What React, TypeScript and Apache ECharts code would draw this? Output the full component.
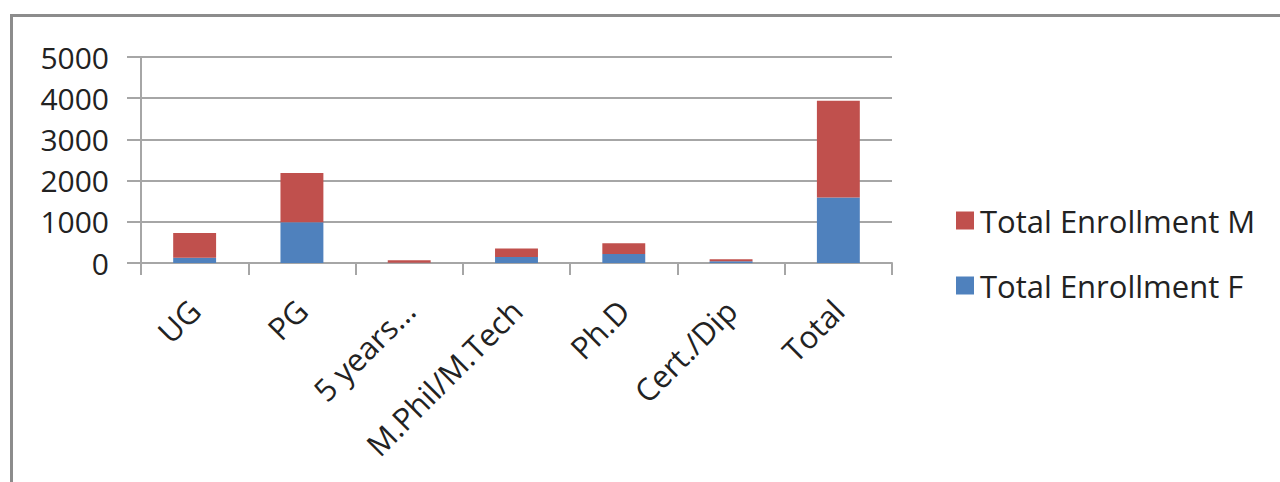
import React, { useEffect, useRef } from "react";
import * as echarts from "echarts";

const categories = ["UG", "PG", "5 years...", "M.Phil/M.Tech", "Ph.D", "Cert./Dip", "Total"];
const femaleValues = [130, 990, 5, 145, 220, 45, 1590];
const maleValues = [600, 1195, 60, 205, 260, 45, 2350];
const seriesNames = ["Total Enrollment M", "Total Enrollment F"];

const FONT = "'Open Sans', Lato, sans-serif";

export default function App() {
  const ref = useRef<HTMLDivElement>(null);
  useEffect(() => {
    if (!ref.current) return;
    const chart = echarts.init(ref.current, null, { renderer: "svg" });
    chart.setOption({
      animation: false,
      backgroundColor: "#ffffff",
      grid: { left: 141, right: 388, top: 57, bottom: 219, containLabel: false },
      legend: {
        orient: "vertical",
        left: 951,
        top: 200,
        itemWidth: 18,
        itemHeight: 18,
        itemGap: 34,
        icon: "rect",
        data: [seriesNames[0], seriesNames[1]],
        textStyle: { fontSize: 31, color: "#222", fontFamily: FONT, padding: [0, 0, 0, 1] },
      },
      xAxis: {
        type: "category",
        data: categories,
        boundaryGap: true,
        axisLine: { show: true, lineStyle: { color: "#a6a6a6", width: 2 } },
        axisTick: { show: true, length: 12, lineStyle: { color: "#a6a6a6", width: 2 } },
        axisLabel: {
          rotate: 45,
          margin: 42,
          fontSize: 31,
          color: "#222",
          fontFamily: FONT,
          interval: 0,
        },
      },
      yAxis: {
        type: "value",
        min: 0,
        max: 5000,
        interval: 1000,
        axisLine: { show: true, lineStyle: { color: "#a6a6a6", width: 2 } },
        axisTick: { show: true, length: 14, lineStyle: { color: "#a6a6a6", width: 2 } },
        splitLine: { show: true, lineStyle: { color: "#a6a6a6", width: 2 } },
        axisLabel: {
          margin: 32,
          fontSize: 30,
          color: "#222",
          fontFamily: FONT,
          formatter: (v: number) => String(v),
        },
      },
      series: [
        {
          name: seriesNames[1],
          type: "bar",
          stack: "total",
          barWidth: "40%",
          data: femaleValues,
          itemStyle: { color: "#4f81bd" },
        },
        {
          name: seriesNames[0],
          type: "bar",
          stack: "total",
          barWidth: "40%",
          data: maleValues,
          itemStyle: { color: "#c0504d" },
        },
      ],
      graphic: [
        {
          type: "line",
          shape: { x1: 10, y1: 15.5, x2: 1280, y2: 15.5 },
          style: { stroke: "#8c8c8c", lineWidth: 3 },
        },
        {
          type: "line",
          shape: { x1: 11.5, y1: 14, x2: 11.5, y2: 482 },
          style: { stroke: "#8c8c8c", lineWidth: 3 },
        },
      ],
    });
    return () => chart.dispose();
  }, []);
  return (
    <div
      ref={ref}
      style={{ position: "fixed", left: 0, top: 0, width: 1280, height: 482 }}
    />
  );
}
